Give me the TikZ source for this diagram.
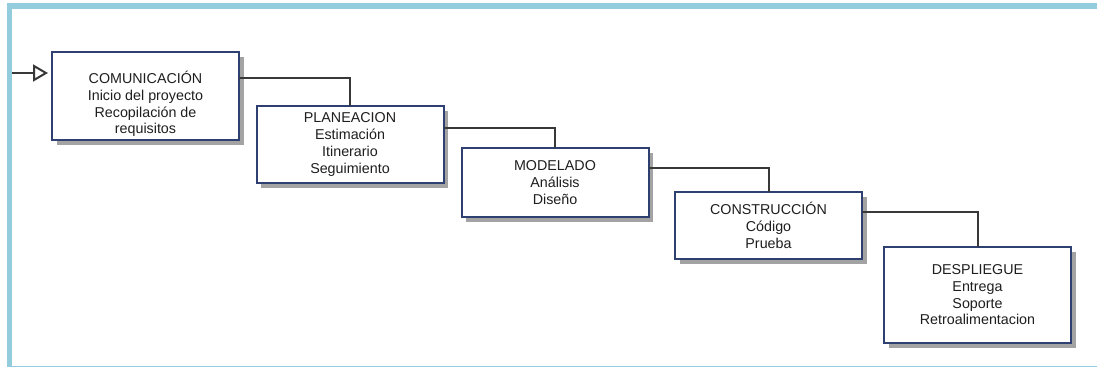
\documentclass[tikz,border=0pt]{standalone}
\usepackage{fontspec}
\setmainfont{Liberation Sans}
\usetikzlibrary{arrows.meta,calc,shadows}
\definecolor{framecol}{HTML}{93CDDD}
\definecolor{boxline}{HTML}{2E3F72}
\definecolor{linkcol}{HTML}{383838}
\definecolor{txtcol}{HTML}{1E1E1E}
\begin{document}
\begin{tikzpicture}[x=1pt,y=-1pt,
  phase/.style={draw=boxline, line width=2pt, fill=white,
    minimum width=187pt, inner sep=0pt, outer sep=0pt,
    general shadow={fill=black!36, shadow xshift=4.5pt, shadow yshift=-4.5pt}},
  lbl/.style={align=center, text=txtcol, inner sep=0pt,
    font=\fontsize{14.3pt}{16.7pt}\selectfont},
  link/.style={draw=linkcol, line width=2pt}]
\useasboundingbox (0,0) rectangle (1097,368);
% page frame
\fill[framecol] (7,3) rectangle (1097,9);
\fill[framecol] (7,3) rectangle (12,367);
\fill[framecol] (7,366) rectangle (1097,367.2);

% phases
\node[phase, minimum height=88pt] (com) at (145.5,96) {};
\node[lbl] (comt) at (145.5,104) {COMUNICACIÓN\\Inicio del proyecto\\Recopilación de\\requisitos};
\node[phase, minimum height=77pt, lbl] (pla) at (350,144.5)
  {PLANEACION\\Estimación\\Itinerario\\Seguimiento};
\node[phase, minimum height=69pt, lbl] (mod) at (555,182.5)
  {MODELADO\\Análisis\\Diseño};
\node[phase, minimum height=67pt, lbl] (con) at (768.5,225.5)
  {CONSTRUCCIÓN\\Código\\Prueba};
\node[phase, minimum height=96pt, lbl] (des) at (977.5,295)
  {DESPLIEGUE\\Entrega\\Soporte\\Retroalimentacion};

% entry arrow
\coordinate (start) at (12,73);
\draw[link, -{Triangle[open, length=15pt, width=17pt, line width=2pt]}, shorten >=4pt]
  (start) -- (start -| com.west);

% step connectors
\draw[link] ($(com.north east)+(0,26)$) -| (pla.north);
\draw[link] ($(pla.north east)+(0,22)$) -| (mod.north);
\draw[link] ($(mod.north east)+(0,20)$) -| (con.north);
\draw[link] ($(con.north east)+(0,20)$) -| (des.north);
\end{tikzpicture}
\end{document}
